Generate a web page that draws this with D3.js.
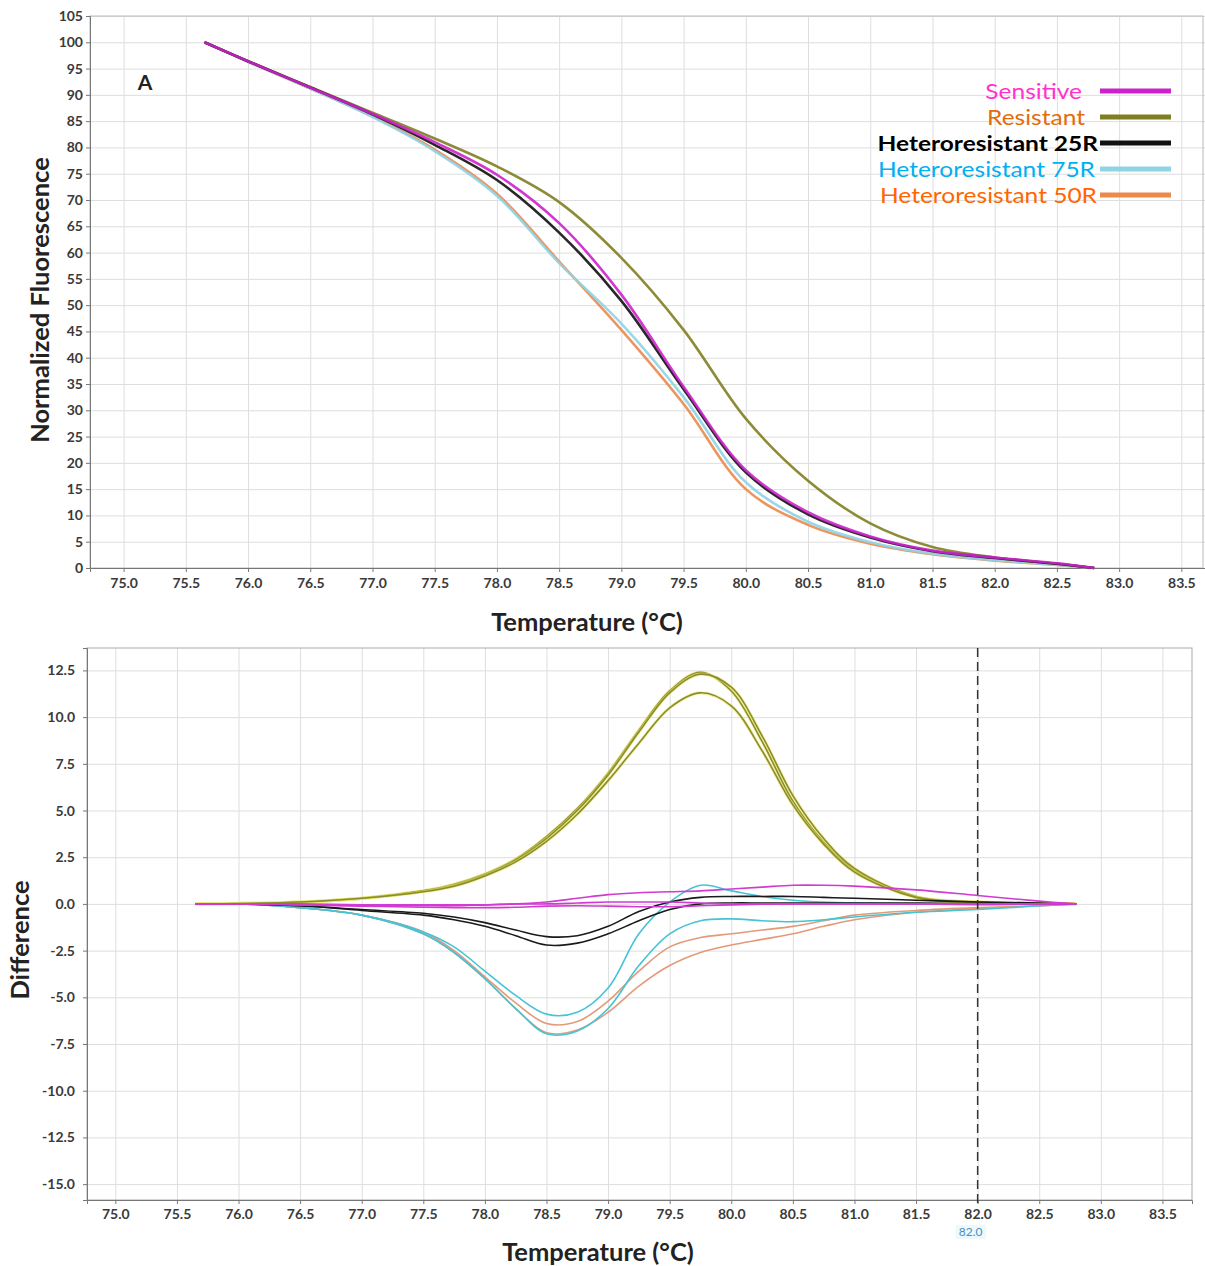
<!DOCTYPE html>
<html lang="en">
<head>
<meta charset="UTF-8">
<title>HRM melt and difference curves</title>
<style>
  body { margin: 0; background: #fff; }
  svg { display: block; font-family: Lato, "Liberation Sans", sans-serif; }
  .tick text { font-size: 14px; font-weight: bold; fill: #3a3a3a; font-family: Lato, "Liberation Sans", sans-serif; }
  .grid line { stroke: #dedede; stroke-width: 1; }
  .grid .domain { display: none; }
  .axis .domain { stroke: #777; }
  .axis line { stroke: #777; }
  .title { font-weight: bold; font-size: 25.5px; fill: #222; }
</style>
</head>
<body>
<svg id="chart" width="1205" height="1266"></svg>
<script src="https://cdn.jsdelivr.net/npm/d3@7"></script>
<script>
// ---- data: top panel (normalized fluorescence) ----
var meltTemps = [75.65, 76.0, 76.5, 77.0, 77.5, 78.0, 78.5, 79.0, 79.5, 80.0, 80.5, 81.0, 81.5, 82.0, 82.5, 82.8];
var meltSensitive = [100, 96.4, 91.4, 86.4, 81.0, 74.8, 65.6, 52.0, 34.5, 18.6, 10.6, 6.0, 3.3, 2.0, 0.9, 0];
var meltResistant = [100, 96.4, 91.5, 86.6, 81.7, 76.4, 69.6, 59.0, 45.3, 28.4, 16.6, 8.5, 4.0, 2.0, 0.8, 0];
var melt25R = [100, 96.4, 91.4, 86.3, 80.5, 73.8, 63.8, 50.8, 34.0, 18.2, 10.2, 5.8, 3.2, 1.9, 0.8, 0];
var melt75R = [100, 96.3, 91.2, 85.8, 79.3, 70.8, 58.0, 46.5, 32.5, 16.3, 8.8, 4.9, 2.7, 1.5, 0.6, 0];
var melt50R = [100, 96.3, 91.2, 85.9, 79.6, 71.2, 58.3, 45.3, 31.2, 15.0, 8.2, 4.6, 2.6, 1.4, 0.6, 0];

// ---- data: bottom panel (difference plot) ----
var diffTemps = [75.65, 76.0, 76.5, 77.0, 77.5, 77.75, 78.0, 78.25, 78.5, 78.75, 79.0, 79.25, 79.5, 79.75, 80.0, 80.25, 80.5, 80.75, 81.0, 81.5, 82.0, 82.5, 82.8];
var diffResistantA = [0, 0.02, 0.1, 0.3, 0.7, 1.05, 1.6, 2.4, 3.6, 5.1, 7.0, 9.3, 11.4, 12.4, 11.4, 8.7, 5.5, 3.3, 1.8, 0.35, 0.1, 0.02, 0];
var diffResistantB = [0, 0.02, 0.1, 0.3, 0.7, 1.0, 1.55, 2.35, 3.5, 5.0, 6.9, 9.2, 11.3, 12.3, 11.6, 9.0, 5.8, 3.5, 1.9, 0.4, 0.1, 0.02, 0];
var diffResistantC = [0, 0.02, 0.1, 0.3, 0.65, 0.95, 1.5, 2.25, 3.35, 4.8, 6.6, 8.6, 10.5, 11.3, 10.6, 8.2, 5.3, 3.2, 1.7, 0.35, 0.1, 0.02, 0];
var diffSensitiveA = [0, 0, -0.05, -0.1, -0.1, -0.1, -0.05, 0, 0.1, 0.3, 0.5, 0.6, 0.65, 0.7, 0.8, 0.9, 1.0, 1.0, 0.95, 0.75, 0.45, 0.15, 0];
var diffSensitiveB = [0, 0, -0.05, -0.12, -0.18, -0.2, -0.2, -0.18, -0.12, -0.1, -0.12, -0.15, -0.15, -0.1, -0.05, -0.02, 0, 0, 0, 0, 0, 0, 0];
var diffSensitiveC = [0, 0, 0, -0.05, -0.05, -0.05, -0.05, 0, 0, 0.05, 0.1, 0.1, 0.1, 0.05, 0, 0, 0, 0, 0, 0, 0, 0, 0];
var diff25RA = [0, 0, -0.1, -0.3, -0.5, -0.7, -1.0, -1.4, -1.75, -1.7, -1.2, -0.4, 0.1, 0.35, 0.4, 0.4, 0.4, 0.35, 0.3, 0.2, 0.1, 0.05, 0];
var diff25RB = [0, 0, -0.1, -0.35, -0.6, -0.85, -1.2, -1.7, -2.2, -2.1, -1.6, -0.9, -0.3, 0.0, 0.05, 0.05, 0.05, 0.05, 0.05, 0.05, 0.02, 0, 0];
var diff75RA = [0, 0, -0.2, -0.6, -1.5, -2.3, -3.6, -4.9, -5.9, -5.8, -4.5, -1.6, 0.1, 1.0, 0.7, 0.4, 0.2, 0.1, 0.05, 0, -0.05, 0, 0];
var diff75RB = [0, 0, -0.2, -0.6, -1.6, -2.6, -4.0, -5.6, -6.95, -6.8, -5.6, -3.3, -1.6, -0.9, -0.8, -0.9, -0.95, -0.85, -0.7, -0.45, -0.3, -0.1, 0];
var diff50RA = [0, 0, -0.2, -0.6, -1.5, -2.5, -3.9, -5.3, -6.4, -6.3, -5.2, -3.6, -2.3, -1.8, -1.6, -1.4, -1.2, -0.9, -0.6, -0.35, -0.2, -0.1, 0];
var diff50RB = [0, 0, -0.2, -0.6, -1.6, -2.6, -4.0, -5.6, -6.9, -6.75, -5.8, -4.4, -3.3, -2.6, -2.2, -1.9, -1.6, -1.2, -0.85, -0.45, -0.25, -0.1, 0];

// ---- ticks and legend ----
var tempTicks = d3.range(75, 83.51, 0.5);
var meltTicks = d3.range(0, 105.1, 5);
var diffTicks = d3.range(-15, 12.6, 2.5);
var legendNames = ["Sensitive", "Resistant", "Heteroresistant 25R", "Heteroresistant 75R", "Heteroresistant 50R"];

var textColor = ["#ff33cc", "#e46c0a", "#000000", "#00b0f0", "#ff6600"];
var lineColor = ["#cc22cc", "#7f7f22", "#111111", "#8fd3e6", "#ec8a4e"];

var svg = d3.select("#chart");
var fmt = function(d) { return d.toFixed(1); };

// ================= top panel =================
var x1 = d3.scaleLinear().domain([74.73, 83.69]).range([90, 1205]);
var y1 = d3.scaleLinear().domain([0, 105]).range([568, 16]);

svg.append("g").attr("class", "grid")
  .attr("transform", "translate(0,568)")
  .call(d3.axisBottom(x1).tickValues(tempTicks).tickSize(-552).tickFormat(""));
svg.append("g").attr("class", "grid")
  .attr("transform", "translate(90,0)")
  .call(d3.axisLeft(y1).tickValues(meltTicks).tickSize(-1115).tickFormat(""));

// frame
svg.append("rect").attr("x", 90).attr("y", 16).attr("width", 1113).attr("height", 552)
  .attr("fill", "none").attr("stroke", "#bbb");

svg.append("g").attr("class", "axis")
  .attr("transform", "translate(0,568)")
  .call(d3.axisBottom(x1).tickValues(tempTicks).tickSize(4).tickPadding(6).tickFormat(fmt));
svg.append("g").attr("class", "axis")
  .attr("transform", "translate(90,0)")
  .call(d3.axisLeft(y1).tickValues(meltTicks).tickSize(4).tickPadding(3).tickFormat(d3.format("d")));

var meltLine = d3.line()
  .x(function(d) { return x1(d[0]); })
  .y(function(d) { return y1(d[1]); })
  .curve(d3.curveCatmullRom.alpha(0.5));

var meltSeries = [
  {vals: melt50R, c: 4},
  {vals: melt75R, c: 3},
  {vals: meltResistant, c: 1},
  {vals: melt25R, c: 2},
  {vals: meltSensitive, c: 0}
];
meltSeries.forEach(function(s) {
  svg.append("path")
    .datum(meltTemps.map(function(t, i) { return [t, s.vals[i]]; }))
    .attr("fill", "none")
    .attr("stroke", lineColor[s.c])
    .attr("stroke-width", 2.6)
    .attr("stroke-opacity", 0.9)
    .attr("d", meltLine);
});

svg.append("text").attr("x", 145).attr("y", 90)
  .attr("text-anchor", "middle").attr("font-weight", "bold").attr("font-size", 21)
  .attr("fill", "#222").text("A");

svg.append("text").attr("class", "title")
  .attr("transform", "translate(49,300) rotate(-90)")
  .attr("text-anchor", "middle").text("Normalized Fluorescence");
svg.append("text").attr("class", "title")
  .attr("x", 587).attr("y", 631)
  .attr("text-anchor", "middle").text("Temperature (°C)");

// legend
var legendGap = [18, 15, 2, 5, 3];
var legend = svg.append("g").selectAll("g")
  .data(legendNames).enter().append("g")
  .attr("transform", function(d, i) { return "translate(0," + (91 + i * 26) + ")"; });
legend.append("line")
  .attr("x1", 1100).attr("x2", 1171).attr("y1", 0).attr("y2", 0)
  .attr("stroke", function(d, i) { return lineColor[i]; })
  .attr("stroke-width", 5);
legend.append("text")
  .attr("x", function(d, i) { return 1100 - legendGap[i]; })
  .attr("y", 8)
  .attr("text-anchor", "end")
  .attr("font-size", 21.5)
  .attr("font-weight", function(d, i) { return i === 2 ? "bold" : "normal"; })
  .attr("fill", function(d, i) { return textColor[i]; })
  .text(function(d) { return d; })
  .each(function() {
    // the original face is wider than Lato; stretch a little
    var w = this.getComputedTextLength();
    d3.select(this).attr("textLength", w * 1.14).attr("lengthAdjust", "spacingAndGlyphs");
  });

// ================= bottom panel =================
var x2 = d3.scaleLinear().domain([74.77, 83.74]).range([87, 1192]);
var y2 = d3.scaleLinear().domain([-15.85, 13.7]).range([1200, 648]);

svg.append("g").attr("class", "grid")
  .attr("transform", "translate(0,1200)")
  .call(d3.axisBottom(x2).tickValues(tempTicks).tickSize(-552).tickFormat(""));
svg.append("g").attr("class", "grid")
  .attr("transform", "translate(87,0)")
  .call(d3.axisLeft(y2).tickValues(diffTicks).tickSize(-1105).tickFormat(""));

svg.append("rect").attr("x", 87).attr("y", 648).attr("width", 1105).attr("height", 552)
  .attr("fill", "none").attr("stroke", "#aaa");

svg.append("g").attr("class", "axis")
  .attr("transform", "translate(0,1200)")
  .call(d3.axisBottom(x2).tickValues(tempTicks).tickSize(4).tickPadding(5).tickFormat(fmt));
svg.append("g").attr("class", "axis")
  .attr("transform", "translate(87,0)")
  .call(d3.axisLeft(y2).tickValues(diffTicks).tickSize(4).tickPadding(8).tickFormat(fmt));

var diffLine = d3.line()
  .x(function(d) { return x2(d[0]); })
  .y(function(d) { return y2(d[1]); })
  .curve(d3.curveCatmullRom.alpha(0.5));

var diffColor = ["#d23ad2", "#8c8c2a", "#1a1a1a", "#45c4d6", "#e39a78"];
var diffSeries = [
  {vals: diffResistantA, c: 1}, {vals: diffResistantB, c: 1}, {vals: diffResistantC, c: 1},
  {vals: diff50RA, c: 4}, {vals: diff50RB, c: 4},
  {vals: diff75RA, c: 3}, {vals: diff75RB, c: 3},
  {vals: diff25RA, c: 2}, {vals: diff25RB, c: 2},
  {vals: diffSensitiveA, c: 0}, {vals: diffSensitiveB, c: 0}, {vals: diffSensitiveC, c: 0}
];
diffSeries.forEach(function(s) {
  var pts = diffTemps.map(function(t, i) { return [t, s.vals[i]]; });
  if (s.c === 1) {
    svg.append("path").datum(pts)
      .attr("fill", "none").attr("stroke", "#e8e870").attr("stroke-width", 3.2)
      .attr("stroke-opacity", 0.6).attr("d", diffLine);
  }
  svg.append("path").datum(pts)
    .attr("fill", "none")
    .attr("stroke", diffColor[s.c])
    .attr("stroke-width", 1.6)
    .attr("d", diffLine);
});

// cursor at 82.0
svg.append("line")
  .attr("x1", x2(82)).attr("x2", x2(82)).attr("y1", 648).attr("y2", 1204)
  .attr("stroke", "#333").attr("stroke-width", 1.5).attr("stroke-dasharray", "9,5");
svg.append("rect").attr("x", x2(82) - 22).attr("y", 1225).attr("width", 30).attr("height", 14)
  .attr("fill", "#eef8fc");
svg.append("text").attr("x", x2(82) - 7).attr("y", 1236)
  .attr("text-anchor", "middle").attr("font-size", 12).attr("fill", "#4a90b8")
  .text("82.0");

svg.append("text").attr("class", "title")
  .attr("transform", "translate(29,940) rotate(-90)")
  .attr("text-anchor", "middle").text("Difference");
svg.append("text").attr("class", "title")
  .attr("x", 598).attr("y", 1261)
  .attr("text-anchor", "middle").text("Temperature (°C)");
</script>
</body>
</html>
